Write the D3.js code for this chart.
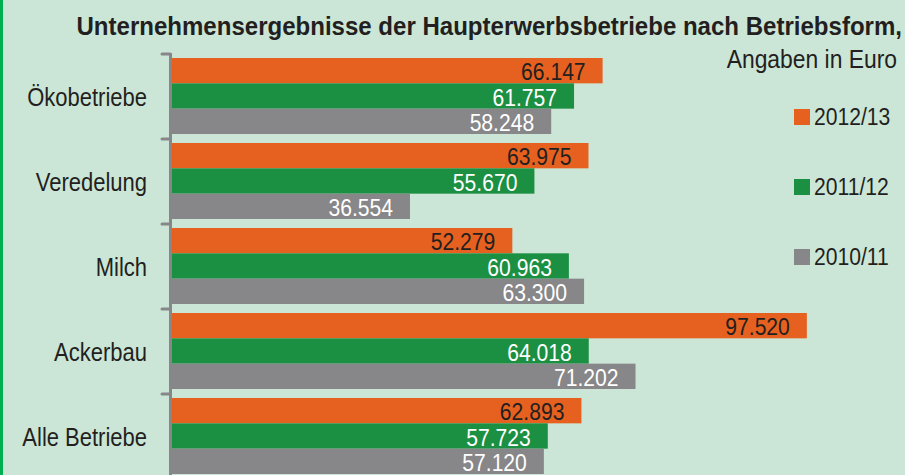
<!DOCTYPE html>
<html>
<head>
<meta charset="utf-8">
<script src="https://cdn.jsdelivr.net/npm/d3@7"></script>
<style>
    body { margin: 0; background: #cbe6d6; }
    svg { display: block; font-family: "Liberation Sans", Arial, sans-serif; }
</style>
</head>
<body>
<div id="chart"></div>
<script>
// Kategorien und Werte (Euro)
const categories = ["Ökobetriebe", "Veredelung", "Milch", "Ackerbau", "Alle Betriebe"];
const seriesNames = ["2012/13", "2011/12", "2010/11"];
const values2012 = [66147, 63975, 52279, 97520, 62893];
const values2011 = [61757, 55670, 60963, 64018, 57723];
const values2010 = [58248, 36554, 63300, 71202, 57120];
const seriesColors = ["#e6611f", "#1b8f42", "#878688"];
const labelColors = ["#231f20", "#ffffff", "#ffffff"];

const titleText = "Unternehmensergebnisse der Haupterwerbsbetriebe nach Betriebsform,";
const subtitleText = "Angaben in Euro";

const width = 905;
const height = 475;
const narrow = 0.88; // Schrift ist etwas schmaler als Arial

const de = d3.formatLocale({ decimal: ",", thousands: ".", grouping: [3], currency: ["", " €"] });
const fmt = de.format(",");

const seriesValues = [values2012, values2011, values2010];

const svg = d3.select("#chart")
    .append("svg")
    .attr("width", width)
    .attr("height", height);

svg.append("rect")
    .attr("width", width)
    .attr("height", height)
    .attr("fill", "#cbe6d6");

// grüner Rand links
svg.append("rect")
    .attr("x", 0)
    .attr("y", 0)
    .attr("width", 3)
    .attr("height", height)
    .attr("fill", "#00b050");

const x = d3.scaleLinear()
    .domain([0, 100000])
    .range([172, 823]);

const y = d3.scaleBand()
    .domain(categories)
    .range([53, 53 + 85 * categories.length]);

const ySub = d3.scaleBand()
    .domain(seriesNames)
    .range([5, 81]);

function narrowText(sel, tx, ty, k) {
    return sel.attr("transform", `translate(${tx},${ty}) scale(${k || narrow},1)`);
}

// Titel
narrowText(svg.append("text"), 902, 35, 0.925)
    .attr("text-anchor", "end")
    .style("font-size", "26px")
    .style("font-weight", "bold")
    .attr("fill", "#231f20")
    .text(titleText);

narrowText(svg.append("text"), 897, 68)
    .attr("text-anchor", "end")
    .style("font-size", "26px")
    .attr("fill", "#231f20")
    .text(subtitleText);

// Balken
const groups = svg.selectAll("g.cat")
    .data(categories)
    .enter()
    .append("g")
    .attr("class", "cat")
    .attr("transform", d => `translate(0,${y(d)})`);

seriesNames.forEach((s, si) => {
    groups.append("rect")
        .attr("x", x(0))
        .attr("y", ySub(s))
        .attr("width", (d, i) => x(seriesValues[si][i]) - x(0))
        .attr("height", ySub.bandwidth())
        .attr("fill", seriesColors[si]);

    groups.append("text")
        .each(function (d, i) {
            narrowText(d3.select(this), x(seriesValues[si][i]) - 17, ySub(s) + ySub.bandwidth() - 3);
        })
        .attr("text-anchor", "end")
        .style("font-size", "24px")
        .attr("fill", labelColors[si])
        .text((d, i) => fmt(seriesValues[si][i]));
});

// Kategorie-Beschriftung
groups.append("text")
    .each(function () {
        narrowText(d3.select(this), 147, y.bandwidth() / 2 + 10.5);
    })
    .attr("text-anchor", "end")
    .style("font-size", "25px")
    .attr("fill", "#231f20")
    .text(d => d);

// Achse mit Strichen an den Bandgrenzen
svg.append("line")
    .attr("x1", 170.5)
    .attr("x2", 170.5)
    .attr("y1", y(categories[0]))
    .attr("y2", height)
    .attr("stroke", "#878688")
    .attr("stroke-width", 3);

svg.selectAll("line.tick")
    .data(categories)
    .enter()
    .append("line")
    .attr("class", "tick")
    .attr("x1", 162)
    .attr("x2", 170)
    .attr("y1", d => y(d) + 1)
    .attr("y2", d => y(d) + 1)
    .attr("stroke", "#878688")
    .attr("stroke-width", 3)
    .attr("stroke-linecap", "round");

// Legende
const legend = svg.selectAll("g.legend")
    .data(seriesNames)
    .enter()
    .append("g")
    .attr("class", "legend")
    .attr("transform", (d, i) => `translate(794,${109 + i * 70})`);

legend.append("rect")
    .attr("width", 16)
    .attr("height", 16)
    .attr("fill", (d, i) => seriesColors[i]);

legend.append("text")
    .each(function () {
        narrowText(d3.select(this), 20, 16);
    })
    .style("font-size", "24px")
    .attr("fill", "#231f20")
    .text(d => d);
</script>
</body>
</html>
